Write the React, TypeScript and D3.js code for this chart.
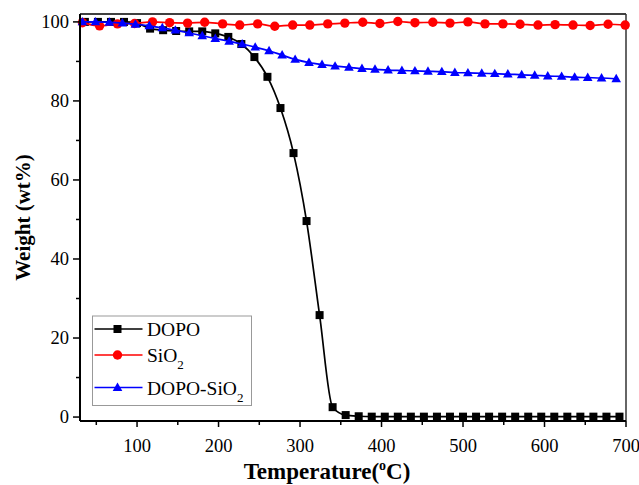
import React from 'react';
import * as d3 from 'd3';

// DOPO (black squares)
const dopoTemp = [36, 52, 68, 84, 100, 116, 132, 148, 164, 180, 196, 212, 228, 244, 260, 276, 292, 308, 324, 340,
  356, 372, 388, 404, 420, 436, 452, 468, 484, 500, 516, 532, 548, 564, 580, 596, 612, 628, 644, 660, 676, 692];
const dopoWeight = [100, 100, 100, 100, 99.7, 98.3, 97.9, 97.7, 97.6, 97.6, 97.1, 96.2, 94.4, 91.1, 86.1, 78.2, 66.8, 49.6, 25.8, 2.5,
  0.5, 0.2, 0.1, 0.1, 0.1, 0.1, 0.1, 0.1, 0.1, 0.1, 0.1, 0.1, 0.1, 0.1, 0.1, 0.1, 0.1, 0.1, 0.1, 0.1, 0.1, 0.1];

// SiO2 (red circles)
const sioTemp = [33, 54, 76, 97, 119, 140, 162, 183, 205, 226, 248, 269, 291, 312, 334, 355,
  377, 398, 420, 441, 463, 484, 506, 527, 549, 570, 592, 613, 635, 656, 678, 699];
const sioWeight = [99.8, 99.0, 99.5, 99.6, 100.0, 99.8, 99.7, 99.9, 99.5, 99.2, 99.5, 98.9, 99.2, 99.2, 99.5, 99.7,
  99.9, 99.6, 100.1, 99.8, 99.9, 99.7, 100.0, 99.5, 99.5, 99.4, 99.2, 99.3, 99.2, 99.1, 99.4, 99.2];

// DOPO-SiO2 (blue triangles)
const dsTemp = [33, 49, 66, 82, 98, 115, 131, 147, 164, 180, 196, 213, 229, 245, 262, 278, 294, 311, 327, 343, 360,
  376, 392, 408, 425, 441, 457, 474, 490, 506, 523, 539, 555, 572, 588, 604, 621, 637, 653, 670, 688];
const dsWeight = [100, 100, 99.9, 99.7, 99.4, 99.0, 98.5, 97.9, 97.2, 96.5, 95.8, 95.1, 94.4, 93.6, 92.7, 91.6, 90.5, 89.7, 89.2, 88.8, 88.5,
  88.2, 88.0, 87.8, 87.7, 87.6, 87.5, 87.4, 87.2, 87.1, 87.0, 86.9, 86.8, 86.6, 86.5, 86.3, 86.2, 86.0, 85.9, 85.8, 85.6];

const xTicks = [100, 200, 300, 400, 500, 600, 700];
const xMinor = [50, 150, 250, 350, 450, 550, 650];
const yTicks = [0, 20, 40, 60, 80, 100];
const yMinor = [10, 30, 50, 70, 90];

const font = '"Liberation Serif", "Times New Roman", serif';

const W = 639, H = 485;
const left = 80, right = 626, top = 14, bottom = 421;

const x = d3.scaleLinear().domain([30, 700]).range([left, right]);
const y = d3.scaleLinear().domain([-1, 102]).range([bottom, top]);

const toPts = (t: number[], v: number[]) => t.map((d, i) => [d, v[i]] as [number, number]);

const line = d3.line<[number, number]>()
  .x(d => x(d[0]))
  .y(d => y(d[1]))
  .curve(d3.curveMonotoneX);

const series = [
  { name: 'DOPO', color: '#000000', shape: 'square', pts: toPts(dopoTemp, dopoWeight) },
  { name: 'SiO2', color: '#ff0000', shape: 'circle', pts: toPts(sioTemp, sioWeight) },
  { name: 'DOPO-SiO2', color: '#0000ff', shape: 'triangle', pts: toPts(dsTemp, dsWeight) },
];

const Marker = ({ shape, cx, cy, color }: { shape: string; cx: number; cy: number; color: string }) => {
  if (shape === 'square') return <rect x={cx - 4} y={cy - 4} width={8} height={8} fill={color} />;
  if (shape === 'circle') return <circle cx={cx} cy={cy} r={4.7} fill={color} />;
  return <path d={`M${cx},${cy - 5}L${cx + 4.8},${cy + 3.4}L${cx - 4.8},${cy + 3.4}Z`} fill={color} />;
};

const legendRows = [
  { s: series[0], ly: 329, label: ['DOPO', ''] },
  { s: series[1], ly: 355, label: ['SiO', '2'] },
  { s: series[2], ly: 387.5, label: ['DOPO-SiO', '2'] },
];

export default function App() {
  return (
    <svg width={W} height={H} style={{ position: 'absolute', left: 0, top: 0, background: '#fff' }}
      fontFamily={font}>
      <rect x={0} y={0} width={W} height={H} fill="#fff" />
      {/* frame */}
      <line x1={left} x2={right} y1={top} y2={top} stroke="#000" strokeWidth={1.5} />
      <line x1={right} x2={right} y1={top} y2={bottom} stroke="#333" strokeWidth={1.5} />

      {/* data */}
      {series.map(s => (
        <g key={s.name}>
          <path d={line(s.pts) || ''} fill="none" stroke={s.color} strokeWidth={1.7} />
          {s.pts.map((p, i) => (
            <Marker key={i} shape={s.shape} cx={x(p[0])} cy={y(p[1])} color={s.color} />
          ))}
        </g>
      ))}

      {/* axes */}
      <line x1={left} x2={right} y1={bottom} y2={bottom} stroke="#000" strokeWidth={2} />
      <line x1={left} x2={left} y1={top} y2={bottom} stroke="#000" strokeWidth={2} />
      {xTicks.map(t => (
        <g key={t}>
          <line x1={x(t)} x2={x(t)} y1={bottom} y2={bottom + 6} stroke="#000" strokeWidth={1.5} />
          <text x={x(t)} y={452} textAnchor="middle" fontSize={18.5}>{t}</text>
        </g>
      ))}
      {xMinor.map(t => (
        <line key={t} x1={x(t)} x2={x(t)} y1={bottom} y2={bottom + 4} stroke="#000" strokeWidth={1.5} />
      ))}
      {yTicks.map(t => (
        <g key={t}>
          <line x1={left - 7} x2={left} y1={y(t)} y2={y(t)} stroke="#000" strokeWidth={1.5} />
          <text x={left - 11} y={y(t) + 6} textAnchor="end" fontSize={18.5}>{t}</text>
        </g>
      ))}
      {yMinor.map(t => (
        <line key={t} x1={left - 4} x2={left} y1={y(t)} y2={y(t)} stroke="#000" strokeWidth={1.5} />
      ))}

      {/* axis titles */}
      <text x={327} y={479} textAnchor="middle" fontSize={23} fontWeight="bold">
        Temperature(<tspan dy={-9} fontSize={14}>o</tspan><tspan dy={9}>C)</tspan>
      </text>
      <text transform={`translate(30,${(top + bottom) / 2}) rotate(-90)`} textAnchor="middle" fontSize={21} fontWeight="bold">
        Weight (wt%)
      </text>

      {/* legend */}
      <rect x={92.5} y={316} width={159} height={89.5} fill="#fff" stroke="#999" strokeWidth={1} />
      {legendRows.map(r => (
        <g key={r.s.name}>
          <line x1={94.5} x2={142.5} y1={r.ly} y2={r.ly} stroke={r.s.color} strokeWidth={1.7} />
          <Marker shape={r.s.shape} cx={117.5} cy={r.ly} color={r.s.color} />
          <text x={147} y={r.ly + 7} fontSize={19.5}>
            {r.label[0]}
            {r.label[1] && <tspan dy={7} fontSize={13}>{r.label[1]}</tspan>}
          </text>
        </g>
      ))}
    </svg>
  );
}
